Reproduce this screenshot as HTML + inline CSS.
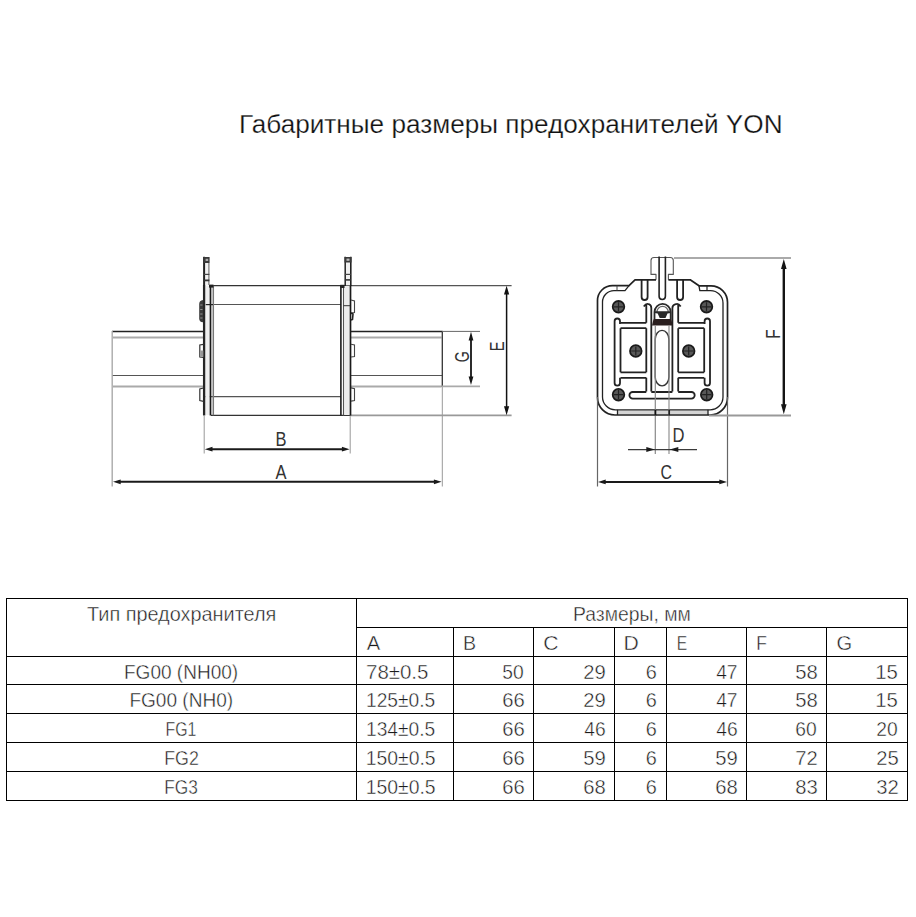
<!DOCTYPE html>
<html><head><meta charset="utf-8"><style>
html,body{margin:0;padding:0;background:#fff;width:916px;height:917px;overflow:hidden}
svg{display:block;position:absolute;left:0;top:0}
text{font-family:"Liberation Sans",sans-serif}
#texts text{stroke:#fff;stroke-width:0.45px}
#texts text.ti{stroke-width:0.25px}
</style></head><body>
<svg width="916" height="917" viewBox="0 0 916 917">
<!-- LEFT DIAGRAM -->
<g id="left" fill="none">
<!-- blade left -->
<line x1="112" y1="331.5" x2="204" y2="331.5" stroke="#222" stroke-width="1.3"/>
<line x1="113" y1="337.5" x2="204" y2="337.5" stroke="#aaa" stroke-width="2"/>
<line x1="112" y1="375.5" x2="204" y2="375.5" stroke="#555" stroke-width="1"/>
<line x1="113" y1="386.5" x2="204" y2="386.5" stroke="#aaa" stroke-width="2"/>
<!-- blade right -->
<line x1="351" y1="331.5" x2="442.5" y2="331.5" stroke="#222" stroke-width="1.3"/>
<line x1="351" y1="337.5" x2="441.5" y2="337.5" stroke="#aaa" stroke-width="2"/>
<line x1="351" y1="375.5" x2="442" y2="375.5" stroke="#555" stroke-width="1"/>
<line x1="351" y1="386.5" x2="441.5" y2="386.5" stroke="#aaa" stroke-width="2"/>
<line x1="442.3" y1="331" x2="442.3" y2="387" stroke="#333" stroke-width="1.3"/>
<!-- ext lines A -->
<line x1="112.2" y1="331" x2="112.2" y2="486.5" stroke="#aaa" stroke-width="1.4"/>
<line x1="442.3" y1="387" x2="442.3" y2="486.5" stroke="#999" stroke-width="1"/>
<!-- body -->
<line x1="209" y1="285.6" x2="351" y2="285.6" stroke="#333" stroke-width="1.2"/>
<line x1="351" y1="285.6" x2="511.6" y2="285.6" stroke="#555" stroke-width="1.3"/>
<line x1="212" y1="304.5" x2="341" y2="304.5" stroke="#555" stroke-width="1.1"/>
<line x1="205" y1="396.6" x2="341" y2="396.6" stroke="#555" stroke-width="1.1"/>
<line x1="211" y1="415.3" x2="351" y2="415.3" stroke="#333" stroke-width="1.2"/>
<line x1="351" y1="415.4" x2="511.6" y2="415.4" stroke="#999" stroke-width="1.8"/>
<!-- left plate -->
<rect x="205.3" y="286" width="4.5" height="129" fill="#f0f0f0"/>
<rect x="344.2" y="286" width="5.5" height="129" fill="#ececec"/>
<line x1="204.1" y1="285" x2="204.1" y2="415.5" stroke="#262626" stroke-width="2.3"/>
<line x1="210.5" y1="285" x2="210.5" y2="415.5" stroke="#1a1a1a" stroke-width="1.7"/>
<line x1="213.3" y1="285.6" x2="213.3" y2="415.3" stroke="#777" stroke-width="1.5"/>
<line x1="205.7" y1="304.6" x2="213" y2="304.6" stroke="#222" stroke-width="1.2"/>
<line x1="204.2" y1="415.5" x2="204.2" y2="453.5" stroke="#999" stroke-width="1"/>
<rect x="209" y="284.6" width="4.5" height="3" fill="#222"/>
<!-- left tab -->
<rect x="204.2" y="257.3" width="4.8" height="28" fill="#f2f2f2"/>
<line x1="204.1" y1="256.8" x2="204.1" y2="286" stroke="#222" stroke-width="2"/>
<line x1="208.9" y1="257" x2="208.9" y2="285" stroke="#777" stroke-width="1.2"/>
<rect x="203.8" y="257" width="5.6" height="6" fill="#3a3a3a"/>
<rect x="205.6" y="258.8" width="2.6" height="2.2" fill="#aaa"/>
<line x1="203.7" y1="274.4" x2="209.4" y2="274.4" stroke="#444" stroke-width="1.2"/>
<line x1="203.7" y1="280.4" x2="209.4" y2="280.4" stroke="#333" stroke-width="1.8"/>
<!-- right plate -->
<line x1="340.9" y1="285" x2="340.9" y2="415.5" stroke="#1a1a1a" stroke-width="1.6"/>
<line x1="343.5" y1="285" x2="343.5" y2="415.5" stroke="#555" stroke-width="1.1"/>
<line x1="350.5" y1="285" x2="350.5" y2="415.5" stroke="#1a1a1a" stroke-width="1.7"/>
<line x1="350.2" y1="415.5" x2="350.2" y2="453.5" stroke="#999" stroke-width="1"/>
<rect x="340.2" y="284.8" width="4.3" height="3.2" fill="#222"/>
<rect x="345" y="257.3" width="5.8" height="28" fill="#f0f0f0"/>
<line x1="345.2" y1="256.8" x2="345.2" y2="286" stroke="#222" stroke-width="1.5"/>
<line x1="350.8" y1="256.8" x2="350.8" y2="286" stroke="#222" stroke-width="1.6"/>
<rect x="344.5" y="257" width="7" height="5.5" fill="#3a3a3a"/>
<rect x="346.5" y="258.6" width="3" height="2.2" fill="#bbb"/>
<line x1="344.9" y1="274.4" x2="350.9" y2="274.4" stroke="#444" stroke-width="1.2"/>
<line x1="344.9" y1="279.9" x2="350.9" y2="279.9" stroke="#333" stroke-width="1.6"/>
<line x1="343.5" y1="305.7" x2="350" y2="305.7" stroke="#333" stroke-width="1"/>
<!-- clips left -->
<path d="M203 300 Q199.2 300.5 199.2 304 L199.2 318.5 Q199.2 322 203 322.3 Z" fill="#3a3a3a"/>
<path d="M200.2 305 H202.5 M200.2 309.5 H202.5 M200.2 314 H202.5 M200.2 318 H202.5" stroke="#999" stroke-width="0.9"/>
<path d="M203.5 344.4 L199.8 345 L199.8 357 L203.5 357.5" stroke="#333" stroke-width="1.2"/>
<rect x="200.4" y="350.5" width="3" height="6.3" fill="#999"/>
<path d="M203.5 388 L199.8 389 L199.8 400.5 L203.5 401.4" stroke="#333" stroke-width="1.2"/>
<!-- clips right -->
<path d="M351 300 L354.5 301 L354.5 312.5 L351 313" stroke="#444" stroke-width="1.1"/>
<path d="M351 313 L353 314 L352.5 319.5 L351 320" stroke="#222" stroke-width="1.6"/>
<path d="M351 344.2 L354.5 345 L354.5 356.5 L351 357" stroke="#444" stroke-width="1.1"/>
<path d="M351 387.9 L354.5 388.8 L354.5 400.5 L351 401.1" stroke="#444" stroke-width="1.1"/>
<!-- G dims -->
<line x1="442" y1="331.4" x2="480" y2="331.4" stroke="#666" stroke-width="1"/>
<line x1="442" y1="386.4" x2="480" y2="386.4" stroke="#aaa" stroke-width="1.6"/>
<line x1="471" y1="338" x2="471" y2="379" stroke="#151515" stroke-width="1.8"/>
<path d="M471 331.8 L473.4 340.5 L468.6 340.5 Z M471 385 L473.4 376.5 L468.6 376.5 Z" fill="#151515"/>
<!-- E dims -->
<line x1="506.6" y1="292" x2="506.6" y2="409" stroke="#111" stroke-width="1.5"/>
<path d="M506.6 285.8 L509.2 294.5 L504 294.5 Z M506.6 415.2 L509.2 406.3 L504 406.3 Z" fill="#111"/>
<!-- B dims -->
<line x1="210" y1="449.2" x2="344" y2="449.2" stroke="#1a1a1a" stroke-width="2"/>
<path d="M204.8 449.2 L212.5 446.8 L212.5 451.6 Z M349.6 449.2 L341.9 446.8 L341.9 451.6 Z" fill="#1a1a1a"/>
<!-- A dims -->
<line x1="118" y1="481.8" x2="437" y2="481.8" stroke="#1a1a1a" stroke-width="2"/>
<path d="M113 481.8 L120.7 479.4 L120.7 484.2 Z M441.6 481.8 L433.9 479.4 L433.9 484.2 Z" fill="#1a1a1a"/>
</g>
<g fill="#333" font-size="20">
<text x="275.5" y="446" textLength="11" lengthAdjust="spacingAndGlyphs">B</text>
<text x="275.5" y="478.7" textLength="11" lengthAdjust="spacingAndGlyphs">A</text>
<text transform="translate(469.3,362.3) rotate(-90)" font-size="21" textLength="11" lengthAdjust="spacingAndGlyphs">G</text>
<text transform="translate(504.2,351.2) rotate(-90)" font-size="21" textLength="9.8" lengthAdjust="spacingAndGlyphs">E</text>
</g>

<!-- RIGHT DIAGRAM -->
<g id="right" fill="none" stroke-linejoin="round">
<!-- outer contour -->
<rect x="617.5" y="410.4" width="90.5" height="4" fill="#d4d4d4"/>
<path d="M656 279.8 L656 274.4 L651 274.4 L651 260.5 Q651 257.5 654 257.5 L670.3 257.5 Q673.3 257.5 673.3 260.5 L673.3 274.4 L668.4 274.4 L668.4 279.8" stroke="#555" stroke-width="1.1"/>
<path d="M656 279.8 L635 279.8 L629 285.6 L612.5 285.6 A15 15 0 0 0 597.5 300.6 L597.5 397.5 A17.5 17.5 0 0 0 615 415 L710 415 A17.5 17.5 0 0 0 727.5 397.5 L727.5 302.3 A16.5 16.5 0 0 0 711 285.8 L699 285.8 L690.2 279.8 L668.4 279.8" stroke="#222" stroke-width="1.7"/>
<!-- inner contour -->
<path d="M629 285.6 L625 290.6 L614 290.6 A11.5 11.5 0 0 0 602.5 302.1 L602.5 397 A12.8 12.8 0 0 0 615.3 409.8 L710.2 409.8 A12.8 12.8 0 0 0 723 397 L723 303.1 A12.5 12.5 0 0 0 710.5 290.6 L699.8 290.6 L699 285.8" stroke="#222" stroke-width="1.3"/>
<line x1="707" y1="285.8" x2="707" y2="290.6" stroke="#222" stroke-width="1.2"/>
<line x1="617" y1="285.6" x2="617" y2="290.6" stroke="#444" stroke-width="1"/>
<line x1="617.5" y1="409.8" x2="617.5" y2="415" stroke="#222" stroke-width="1.3"/>
<line x1="708" y1="409.8" x2="708" y2="415" stroke="#222" stroke-width="1.3"/>
<!-- top slots -->
<path d="M641.6 279.8 L641.6 297 A3 3 0 0 0 647.6 297 L647.6 279.8" stroke="#222" stroke-width="1.8"/>
<path d="M659.1 256.6 L659.1 296.3 A3.15 3.15 0 0 0 665.4 296.3 L665.4 256.6" stroke="#222" stroke-width="1.6"/>
<path d="M677.1 279.8 L677.1 297 A3 3 0 0 0 683.1 297 L683.1 279.8" stroke="#222" stroke-width="1.8"/>
<!-- left outer bar -->
<path d="M620 324 L620 321.2 A2.7 2.7 0 0 0 614.6 321.2 L614.6 383 A2.7 2.7 0 0 0 620 383 L620 377.8" stroke="#222" stroke-width="1.8"/>
<!-- right outer bar -->
<path d="M704.6 324 L704.6 321.2 A2.7 2.7 0 0 1 710 321.2 L710 383 A2.7 2.7 0 0 1 704.6 383 L704.6 377.8" stroke="#222" stroke-width="1.8"/>
<!-- left H frame -->
<path d="M620.5 322.8 L646.3 322.8 M620.5 328.2 L646.3 328.2 M620.5 372.3 L646.3 372.3 M620.5 328.2 L620.5 372.3 M620.5 377.8 L646.3 377.8" stroke="#222" stroke-width="1.8"/>
<!-- right H frame -->
<path d="M704.2 322.8 L678.2 322.8 M704.2 328.2 L678.2 328.2 M704.2 372.3 L678.2 372.3 M704.2 328.2 L704.2 372.3 M704.2 377.8 L678.2 377.8" stroke="#222" stroke-width="1.8"/>
<!-- center-left and center-right bars -->
<path d="M643.8 306.5 Q646.3 302.8 648.8 304.2 Q651.3 305 651.3 308 L651.3 391.5 M646.3 305 L646.3 322.8 M646.3 328.2 L646.3 372.3 M646.3 377.8 L646.3 391.5" stroke="#222" stroke-width="1.8"/>
<path d="M680.7 306.5 Q678.2 302.8 675.7 304.2 Q672.4 305 672.4 308 L672.4 391.5 M678.2 305 L678.2 322.8 M678.2 328.2 L678.2 372.3 M678.2 377.8 L678.2 391.5" stroke="#222" stroke-width="1.8"/>
<!-- lock -->
<path d="M654.5 319 V312 A8.1 8.1 0 0 1 670.7 312 V319" stroke="#2a2a2a" stroke-width="1.8"/>
<path d="M657 312 A5.6 5.6 0 0 1 668.2 312" stroke="#666" stroke-width="1.2"/>
<path d="M654.5 311.3 H670.7 V313 L667.5 313.5 L665.5 318 H659.7 L657.7 313.5 L654.5 313 Z" fill="#2a2a2a"/>
<path d="M653.5 319 H671.5 L672.5 325.5 H652 Z" fill="#2a1f1f"/>
<!-- oval slot -->
<rect x="655.2" y="330.4" width="13.7" height="55.5" rx="6.85" ry="9" stroke="#333" stroke-width="1.4"/>
<!-- T bar -->
<path d="M646.3 392 L632.7 392 A3.3 3.3 0 0 0 632.7 398.6 L691.4 398.6 A3.3 3.3 0 0 0 691.4 392 L678.2 392 M651.3 392 L672.4 392" stroke="#222" stroke-width="1.8"/>
<!-- D ext -->
<line x1="655.3" y1="326" x2="655.3" y2="454" stroke="#888" stroke-width="1.2"/>
<line x1="669" y1="326" x2="669" y2="454" stroke="#888" stroke-width="1.1"/>
<line x1="655.4" y1="409.8" x2="655.4" y2="415.5" stroke="#111" stroke-width="1.8"/>
<line x1="669.2" y1="409.8" x2="669.2" y2="415.5" stroke="#222" stroke-width="1.7"/>
<!-- D arrows -->
<line x1="628" y1="449.6" x2="697" y2="449.6" stroke="#3a3a3a" stroke-width="1.1"/>
<path d="M654.8 449.6 L646.3 447.1 L646.3 452.1 Z" fill="#1a1a1a"/>
<path d="M669.8 449.6 L678.3 447.1 L678.3 452.1 Z" fill="#1a1a1a"/>
<!-- C -->
<line x1="597.5" y1="397" x2="597.5" y2="486.5" stroke="#666" stroke-width="1.2"/>
<line x1="727.5" y1="397" x2="727.5" y2="486.5" stroke="#666" stroke-width="1.2"/>
<line x1="603" y1="481.9" x2="722" y2="481.9" stroke="#1a1a1a" stroke-width="2"/>
<path d="M598 481.9 L605.7 479.5 L605.7 484.3 Z M727 481.9 L719.3 479.5 L719.3 484.3 Z" fill="#1a1a1a"/>
<!-- F -->
<line x1="674" y1="258" x2="791" y2="258" stroke="#aaa" stroke-width="1.8"/>
<line x1="709" y1="415.5" x2="791" y2="415.5" stroke="#999" stroke-width="1.8"/>
<line x1="783.8" y1="266" x2="783.8" y2="407" stroke="#141414" stroke-width="2.4"/>
<path d="M783.8 259 L786.6 269 L781 269 Z M783.8 414.2 L786.6 404.3 L781 404.3 Z" fill="#141414"/>
<circle cx="618.5" cy="306.8" r="5.8" fill="#585858" stroke="#1a1a1a" stroke-width="1.8"/><path d="M613.9000000000001 306.8 H623.0999999999999 M618.5 302.2 V311.40000000000003" stroke="#222" stroke-width="1.2"/><circle cx="706.5" cy="306.8" r="5.8" fill="#585858" stroke="#1a1a1a" stroke-width="1.8"/><path d="M701.9000000000001 306.8 H711.0999999999999 M706.5 302.2 V311.40000000000003" stroke="#222" stroke-width="1.2"/><circle cx="618.5" cy="394.7" r="5.8" fill="#585858" stroke="#1a1a1a" stroke-width="1.8"/><path d="M613.9000000000001 394.7 H623.0999999999999 M618.5 390.09999999999997 V399.3" stroke="#222" stroke-width="1.2"/><circle cx="706.7" cy="394.7" r="5.8" fill="#585858" stroke="#1a1a1a" stroke-width="1.8"/><path d="M702.1000000000001 394.7 H711.3 M706.7 390.09999999999997 V399.3" stroke="#222" stroke-width="1.2"/><circle cx="635.8" cy="351" r="5.8" fill="#585858" stroke="#1a1a1a" stroke-width="1.8"/><path d="M631.2 351 H640.3999999999999 M635.8 346.4 V355.6" stroke="#222" stroke-width="1.2"/><circle cx="688.7" cy="351" r="5.8" fill="#585858" stroke="#1a1a1a" stroke-width="1.8"/><path d="M684.1000000000001 351 H693.3 M688.7 346.4 V355.6" stroke="#222" stroke-width="1.2"/>
</g>
<g fill="#333" font-size="20">
<text x="660.5" y="478.6" textLength="11.5" lengthAdjust="spacingAndGlyphs">C</text>
<text x="672.5" y="441.8" textLength="12" lengthAdjust="spacingAndGlyphs">D</text>
<text transform="translate(780.3,338.8) rotate(-90)" font-size="21" textLength="9.5" lengthAdjust="spacingAndGlyphs">F</text>
</g>


<!-- TABLE -->
<g id="table" stroke="#000" stroke-width="1.1" fill="none" shape-rendering="crispEdges">
<line x1="6" y1="598.5" x2="908" y2="598.5"/>
<line x1="356" y1="627.5" x2="908" y2="627.5"/>
<line x1="6" y1="656.5" x2="908" y2="656.5"/>
<line x1="6" y1="684.5" x2="908" y2="684.5"/>
<line x1="6" y1="713.5" x2="908" y2="713.5"/>
<line x1="6" y1="742.5" x2="908" y2="742.5"/>
<line x1="6" y1="771.5" x2="908" y2="771.5"/>
<line x1="6" y1="800.5" x2="908" y2="800.5"/>
<line x1="6.5" y1="598" x2="6.5" y2="801"/>
<line x1="356.5" y1="598" x2="356.5" y2="801"/>
<line x1="453.5" y1="627" x2="453.5" y2="801"/>
<line x1="533.5" y1="627" x2="533.5" y2="801"/>
<line x1="614.5" y1="627" x2="614.5" y2="801"/>
<line x1="666.5" y1="627" x2="666.5" y2="801"/>
<line x1="746.5" y1="627" x2="746.5" y2="801"/>
<line x1="826.5" y1="627" x2="826.5" y2="801"/>
<line x1="907.5" y1="598" x2="907.5" y2="801"/>
</g>

<g id="texts">
<text class="ti" x="239.00" y="133" font-size="26" fill="#111" textLength="543.55" lengthAdjust="spacingAndGlyphs">Габаритные размеры предохранителей YON</text>
<text x="87.00" y="620.8" font-size="21" fill="#1a1a1a" textLength="189.36" lengthAdjust="spacingAndGlyphs">Тип предохранителя</text>
<text x="573.00" y="620.6" font-size="21" fill="#1a1a1a" textLength="117.81" lengthAdjust="spacingAndGlyphs">Размеры, мм</text>
<text x="366.80" y="650" font-size="21" fill="#1a1a1a" textLength="13.47" lengthAdjust="spacingAndGlyphs">A</text>
<text x="463.00" y="650" font-size="21" fill="#1a1a1a" textLength="13.09" lengthAdjust="spacingAndGlyphs">B</text>
<text x="543.20" y="650" font-size="21" fill="#1a1a1a" textLength="15.32" lengthAdjust="spacingAndGlyphs">C</text>
<text x="623.40" y="650" font-size="21" fill="#1a1a1a" textLength="15.32" lengthAdjust="spacingAndGlyphs">D</text>
<text x="676.80" y="650" font-size="21" fill="#1a1a1a" textLength="10.40" lengthAdjust="spacingAndGlyphs">E</text>
<text x="756.20" y="650" font-size="21" fill="#1a1a1a" textLength="10.66" lengthAdjust="spacingAndGlyphs">F</text>
<text x="836.60" y="650" font-size="21" fill="#1a1a1a" textLength="15.68" lengthAdjust="spacingAndGlyphs">G</text>
<text x="124.00" y="678.5" font-size="21" fill="#1a1a1a" textLength="114.18" lengthAdjust="spacingAndGlyphs">FG00 (NH00)</text>
<text x="366.00" y="678.5" font-size="21" fill="#1a1a1a" textLength="62.43" lengthAdjust="spacingAndGlyphs">78±0.5</text>
<text x="502.20" y="678.5" font-size="21" fill="#1a1a1a" textLength="21.39" lengthAdjust="spacingAndGlyphs">50</text>
<text x="583.20" y="678.5" font-size="21" fill="#1a1a1a" textLength="22.51" lengthAdjust="spacingAndGlyphs">29</text>
<text x="645.80" y="678.5" font-size="21" fill="#1a1a1a" textLength="11.07" lengthAdjust="spacingAndGlyphs">6</text>
<text x="716.20" y="678.5" font-size="21" fill="#1a1a1a" textLength="21.33" lengthAdjust="spacingAndGlyphs">47</text>
<text x="795.20" y="678.5" font-size="21" fill="#1a1a1a" textLength="22.51" lengthAdjust="spacingAndGlyphs">58</text>
<text x="875.20" y="678.5" font-size="21" fill="#1a1a1a" textLength="22.61" lengthAdjust="spacingAndGlyphs">15</text>
<text x="129.40" y="707.3" font-size="21" fill="#1a1a1a" textLength="103.80" lengthAdjust="spacingAndGlyphs">FG00 (NH0)</text>
<text x="366.00" y="707.3" font-size="21" fill="#1a1a1a" textLength="69.29" lengthAdjust="spacingAndGlyphs">125±0.5</text>
<text x="502.20" y="707.3" font-size="21" fill="#1a1a1a" textLength="22.51" lengthAdjust="spacingAndGlyphs">66</text>
<text x="583.20" y="707.3" font-size="21" fill="#1a1a1a" textLength="22.51" lengthAdjust="spacingAndGlyphs">29</text>
<text x="645.80" y="707.3" font-size="21" fill="#1a1a1a" textLength="11.07" lengthAdjust="spacingAndGlyphs">6</text>
<text x="716.20" y="707.3" font-size="21" fill="#1a1a1a" textLength="21.33" lengthAdjust="spacingAndGlyphs">47</text>
<text x="795.20" y="707.3" font-size="21" fill="#1a1a1a" textLength="22.51" lengthAdjust="spacingAndGlyphs">58</text>
<text x="875.20" y="707.3" font-size="21" fill="#1a1a1a" textLength="22.61" lengthAdjust="spacingAndGlyphs">15</text>
<text x="165.60" y="736" font-size="21" fill="#1a1a1a" textLength="30.83" lengthAdjust="spacingAndGlyphs">FG1</text>
<text x="366.00" y="736" font-size="21" fill="#1a1a1a" textLength="69.28" lengthAdjust="spacingAndGlyphs">134±0.5</text>
<text x="502.20" y="736" font-size="21" fill="#1a1a1a" textLength="22.51" lengthAdjust="spacingAndGlyphs">66</text>
<text x="584.20" y="736" font-size="21" fill="#1a1a1a" textLength="21.39" lengthAdjust="spacingAndGlyphs">46</text>
<text x="645.80" y="736" font-size="21" fill="#1a1a1a" textLength="11.07" lengthAdjust="spacingAndGlyphs">6</text>
<text x="716.20" y="736" font-size="21" fill="#1a1a1a" textLength="21.39" lengthAdjust="spacingAndGlyphs">46</text>
<text x="795.20" y="736" font-size="21" fill="#1a1a1a" textLength="21.39" lengthAdjust="spacingAndGlyphs">60</text>
<text x="876.20" y="736" font-size="21" fill="#1a1a1a" textLength="21.39" lengthAdjust="spacingAndGlyphs">20</text>
<text x="164.20" y="765" font-size="21" fill="#1a1a1a" textLength="34.62" lengthAdjust="spacingAndGlyphs">FG2</text>
<text x="365.80" y="765" font-size="21" fill="#1a1a1a" textLength="69.84" lengthAdjust="spacingAndGlyphs">150±0.5</text>
<text x="502.20" y="765" font-size="21" fill="#1a1a1a" textLength="22.51" lengthAdjust="spacingAndGlyphs">66</text>
<text x="583.20" y="765" font-size="21" fill="#1a1a1a" textLength="22.51" lengthAdjust="spacingAndGlyphs">59</text>
<text x="645.80" y="765" font-size="21" fill="#1a1a1a" textLength="11.07" lengthAdjust="spacingAndGlyphs">6</text>
<text x="715.20" y="765" font-size="21" fill="#1a1a1a" textLength="22.51" lengthAdjust="spacingAndGlyphs">59</text>
<text x="795.20" y="765" font-size="21" fill="#1a1a1a" textLength="22.45" lengthAdjust="spacingAndGlyphs">72</text>
<text x="876.20" y="765" font-size="21" fill="#1a1a1a" textLength="22.51" lengthAdjust="spacingAndGlyphs">25</text>
<text x="164.20" y="794" font-size="21" fill="#1a1a1a" textLength="33.63" lengthAdjust="spacingAndGlyphs">FG3</text>
<text x="365.80" y="794" font-size="21" fill="#1a1a1a" textLength="69.84" lengthAdjust="spacingAndGlyphs">150±0.5</text>
<text x="502.20" y="794" font-size="21" fill="#1a1a1a" textLength="22.51" lengthAdjust="spacingAndGlyphs">66</text>
<text x="583.20" y="794" font-size="21" fill="#1a1a1a" textLength="22.51" lengthAdjust="spacingAndGlyphs">68</text>
<text x="645.80" y="794" font-size="21" fill="#1a1a1a" textLength="11.07" lengthAdjust="spacingAndGlyphs">6</text>
<text x="715.20" y="794" font-size="21" fill="#1a1a1a" textLength="22.51" lengthAdjust="spacingAndGlyphs">68</text>
<text x="795.20" y="794" font-size="21" fill="#1a1a1a" textLength="22.51" lengthAdjust="spacingAndGlyphs">83</text>
<text x="876.20" y="794" font-size="21" fill="#1a1a1a" textLength="22.51" lengthAdjust="spacingAndGlyphs">32</text>
</g>
</svg>
</body></html>
